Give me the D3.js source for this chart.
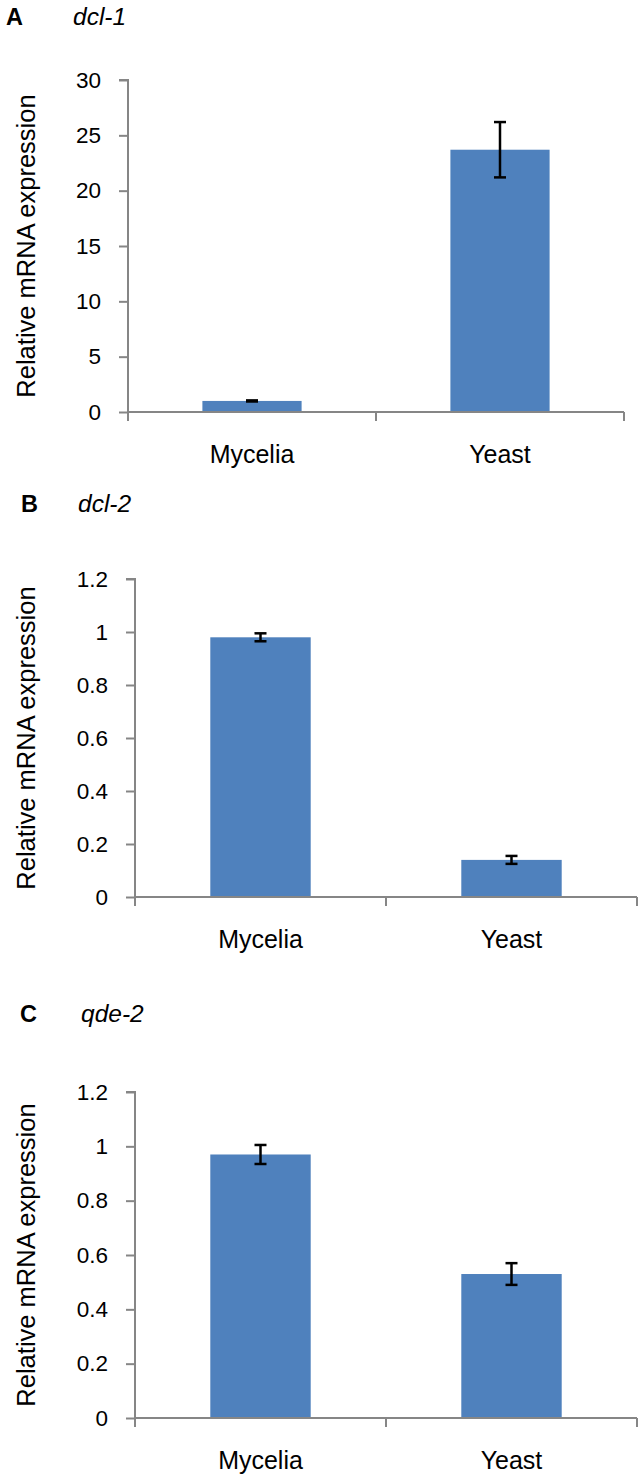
<!DOCTYPE html>
<html><head><meta charset="utf-8">
<script src="https://cdn.jsdelivr.net/npm/d3@7/dist/d3.min.js"></script>
<style>
html,body{margin:0;padding:0;background:#fff;}
svg{display:block;font-family:"Liberation Sans",Arial,sans-serif;}
</style></head>
<body>
<svg id="chart" width="644" height="1481"></svg>
<script>
// ---- data ----
const categories = ["Mycelia", "Yeast"];
const panelLetters = ["A", "B", "C"];
const geneNames = ["dcl-1", "dcl-2", "qde-2"];
const valuesA = [1.0, 23.7];
const errorsA = [0.05, 2.5];
const valuesB = [0.98, 0.14];
const errorsB = [0.015, 0.015];
const valuesC = [0.97, 0.53];
const errorsC = [0.035, 0.04];
const ticksA = [0, 5, 10, 15, 20, 25, 30];
const ticksBC = [0, 0.2, 0.4, 0.6, 0.8, 1, 1.2];
const yLabel = "Relative mRNA expression";

// ---- layout (positions only) ----
const layout = [
  {letterX: 6, geneX: 73, letterY: 25, x0: 128, x1: 624, yTop: 80, yZero: 412, max: 30, ticks: ticksA, values: valuesA, errors: errorsA},
  {letterX: 21, geneX: 78, letterY: 512, x0: 135, x1: 637, yTop: 579, yZero: 897, max: 1.2, ticks: ticksBC, values: valuesB, errors: errorsB},
  {letterX: 20, geneX: 81, letterY: 1022, x0: 135, x1: 637, yTop: 1092, yZero: 1418, max: 1.2, ticks: ticksBC, values: valuesC, errors: errorsC}
];

const svg = d3.select("#chart");
const axisColor = "#868686";
const barColor = "#4F81BD";

layout.forEach((p, i) => {
  const g = svg.append("g");
  // panel letter and gene name
  g.append("text").attr("x", p.letterX).attr("y", p.letterY)
    .attr("font-size", 23.5).attr("font-weight", "bold").text(panelLetters[i]);
  g.append("text").attr("x", p.geneX).attr("y", p.letterY)
    .attr("font-size", 24.5).attr("font-style", "italic").text(geneNames[i]);

  const x = d3.scaleBand().domain(categories).range([p.x0, p.x1]).paddingInner(0.6).paddingOuter(0.3);
  const xb = d3.scaleBand().domain(categories).range([p.x0, p.x1]);
  const y = d3.scaleLinear().domain([0, p.max]).range([p.yZero, p.yTop]);

  // bars
  g.selectAll("rect.bar").data(categories).enter().append("rect")
    .attr("x", d => x(d)).attr("width", x.bandwidth())
    .attr("y", (d, j) => y(p.values[j]))
    .attr("height", (d, j) => y(0) - y(p.values[j]))
    .attr("fill", barColor);

  // y axis
  const yAxis = d3.axisLeft(y).tickValues(p.ticks).tickSize(9).tickPadding(18)
    .tickFormat(d3.format("~g"));
  const ya = g.append("g").attr("transform", `translate(${p.x0},0)`).call(yAxis);
  ya.select(".domain").attr("stroke", axisColor).attr("stroke-width", 2).attr("d", `M-9,${p.yTop}H0V${p.yZero}`);
  ya.selectAll(".tick line").attr("stroke", axisColor).attr("stroke-width", 2);
  ya.selectAll(".tick text").attr("font-size", 22.5).attr("fill", "#000")
    .attr("font-family", "Liberation Sans, Arial, sans-serif");

  // x axis
  const xa = g.append("g").attr("transform", `translate(0,${p.yZero})`);
  xa.append("path").attr("d", `M${p.x0},0H${p.x1}`).attr("stroke", axisColor).attr("stroke-width", 2).attr("fill", "none");
  const bounds = [p.x0].concat(categories.map(c => xb(c) + xb.bandwidth()));
  xa.selectAll("line.xt").data(bounds).enter().append("line")
    .attr("x1", d => d).attr("x2", d => d).attr("y1", 0).attr("y2", 9)
    .attr("stroke", axisColor).attr("stroke-width", 2);
  xa.selectAll("text.cat").data(categories).enter().append("text")
    .attr("x", d => xb(d) + xb.bandwidth() / 2).attr("y", 51)
    .attr("text-anchor", "middle").attr("font-size", 25).attr("fill", "#000").text(d => d);

  // error bars
  const eb = g.append("g").attr("stroke", "#000").attr("stroke-width", 2.5);
  categories.forEach((c, j) => {
    const cx = x(c) + x.bandwidth() / 2;
    const lo = y(p.values[j] - p.errors[j]);
    const hi = y(p.values[j] + p.errors[j]);
    eb.append("line").attr("x1", cx).attr("x2", cx).attr("y1", lo).attr("y2", hi);
    eb.append("line").attr("x1", cx - 6).attr("x2", cx + 6).attr("y1", lo).attr("y2", lo);
    eb.append("line").attr("x1", cx - 6).attr("x2", cx + 6).attr("y1", hi).attr("y2", hi);
  });

  // y axis title
  g.append("text")
    .attr("transform", `translate(35,${(p.yTop + p.yZero) / 2}) rotate(-90)`)
    .attr("text-anchor", "middle").attr("font-size", 25.5).attr("fill", "#000").text(yLabel);
});
</script>
</body></html>
